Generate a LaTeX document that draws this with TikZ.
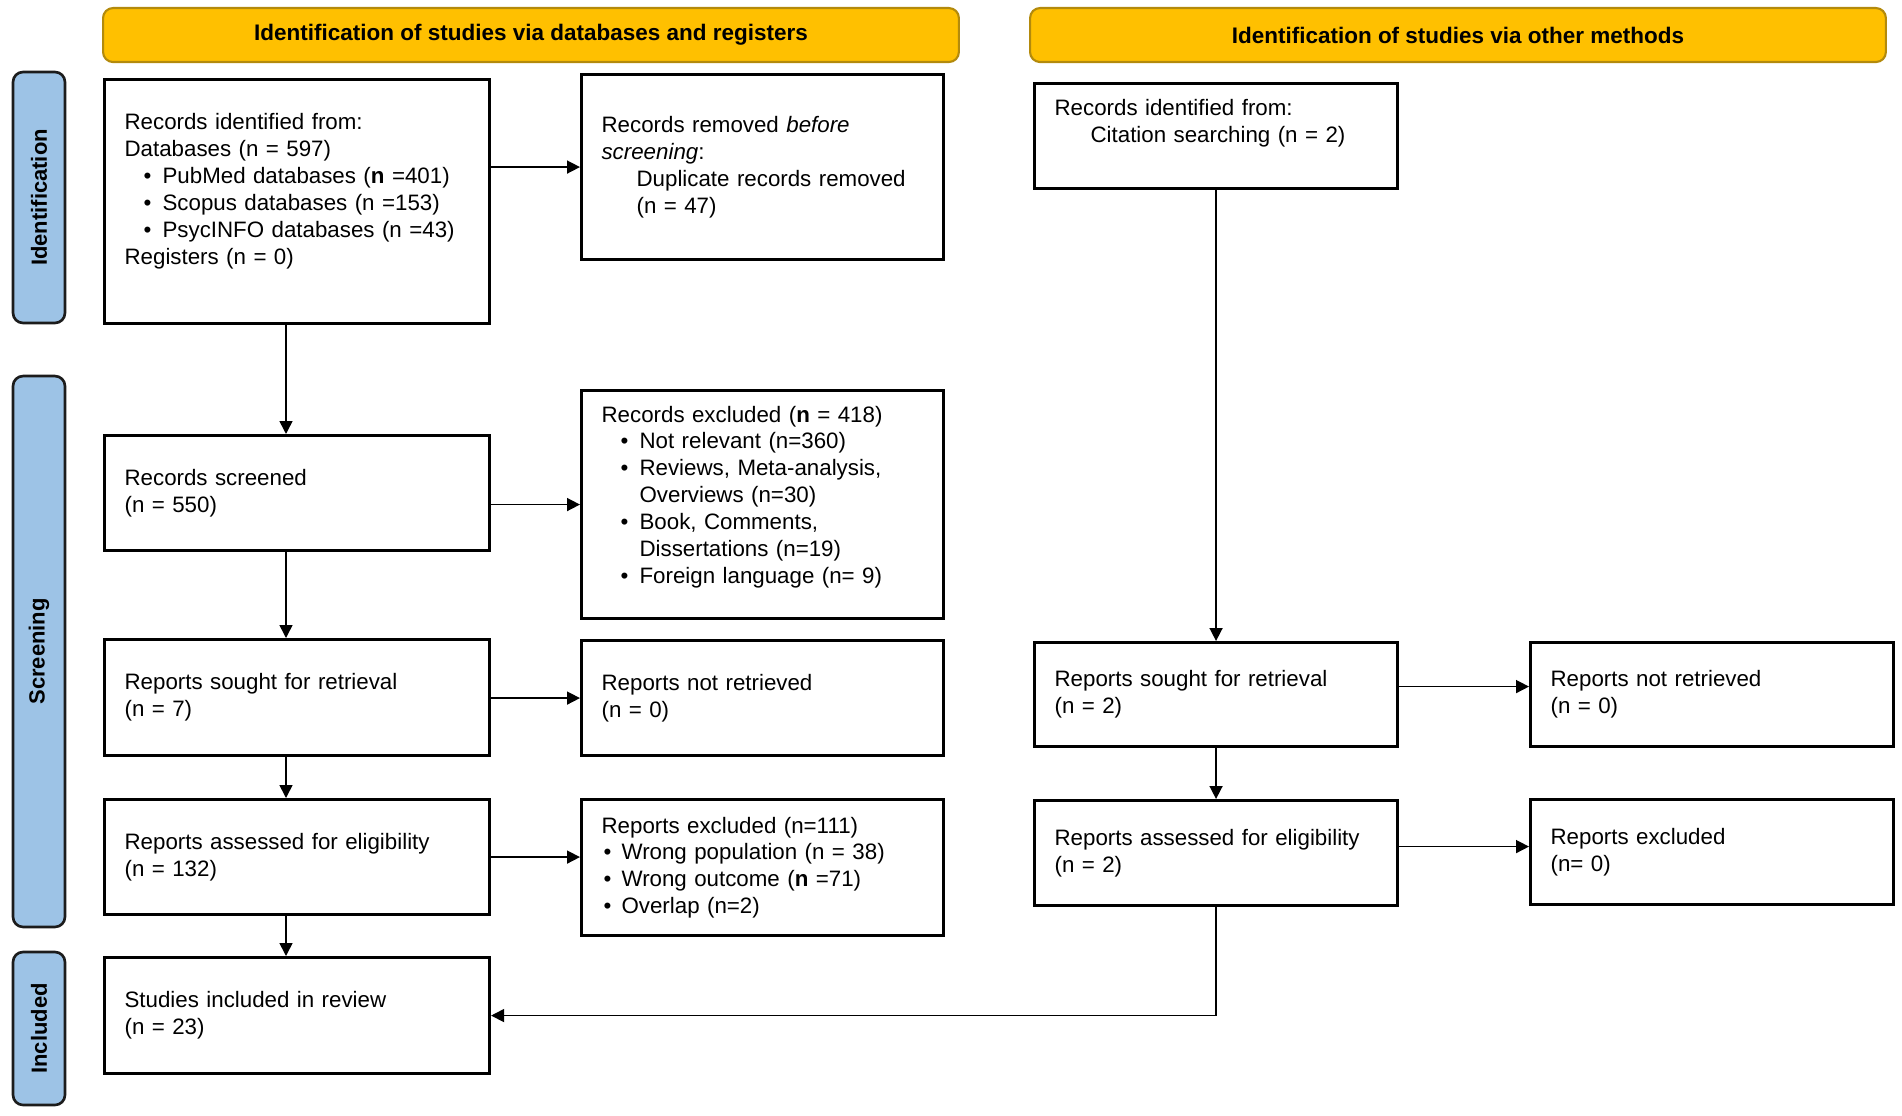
\documentclass[tikz,border=0pt]{standalone}
\usepackage{fontspec}
\setmainfont{Liberation Sans}
\usepackage{xcolor}
\usepackage{tikz}
\usetikzlibrary{arrows.meta,positioning}
\setlength{\parindent}{0pt}
\definecolor{headyellow}{HTML}{FFC000}
\definecolor{headedge}{HTML}{B38A0C}
\definecolor{phaseblue}{HTML}{9DC3E6}
\definecolor{phaseedge}{HTML}{1C1C1C}
\newcommand{\boxfont}{\fontsize{12.7}{15.3}\selectfont}
\newcommand{\bitem}{\hspace*{0.38cm}\makebox[0.38cm][l]{\textbullet}}
\newcommand{\bcont}{\hspace*{0.76cm}}
\newcommand{\vpad}[1]{\rule[-#1]{0pt}{#1}}
\tikzset{
  prismabox/.style={
    draw,
    line width=1.8pt,
    anchor=north west,
    align=left,
    inner xsep=0.4cm,
    inner ysep=0pt,
    font=\boxfont
  },
  leftbox/.style={prismabox, text width=6.9cm, minimum width=7.7cm},
  midbox/.style={prismabox, text width=6.44cm, minimum width=7.24cm},
  otherbox/.style={prismabox, text width=6.46cm, minimum width=7.26cm},
  headbox/.style={
    draw=headedge,
    fill=headyellow,
    line width=1.2pt,
    rounded corners=0.2cm,
    anchor=north west,
    minimum width=17.12cm,
    minimum height=1.08cm,
    font=\fontsize{12.8}{15}\selectfont\bfseries
  },
  phasebox/.style={
    draw=phaseedge,
    fill=phaseblue,
    line width=1.5pt,
    rounded corners=0.2cm,
    rotate=90,
    minimum height=1.04cm,
    font=\fontsize{12.5}{15}\selectfont\bfseries
  },
  flowarrow/.style={-{Triangle[length=0.26cm, width=0.26cm]}, line width=0.9pt}
}

\begin{document}
\begin{tikzpicture}[x=0.02cm, y=-0.02cm]
  \useasboundingbox (0,0) rectangle (1902,1115);

  % headers
  \node[headbox] (dbhead) at (102,7) {Identification of studies via databases and registers};
  \node[headbox] (otherhead) at (1029,7) {Identification of studies via other methods};

  % phases
  \node[phasebox, minimum width=5.02cm] (idphase) at (39,197.5) {Identification};
  \node[phasebox, minimum width=11.02cm] (scphase) at (39,651.5) {Screening};
  \node[phasebox, minimum width=3.06cm] (inphase) at (39,1028.5) {Included};

  % databases and registers
  \node[leftbox, minimum height=4.88cm] (ident) at (103,78) {Records identified from:\\Databases (n = 597)\\
    \bitem PubMed databases (\textbf{n} =401)\\
    \bitem Scopus databases (n =153)\\
    \bitem PsycINFO databases (n =43)\\
    Registers (n = 0)\vpad{0.5cm}};
  \node[midbox, minimum height=3.7cm] (removed) at (580,73) {Records removed \textit{before}\\\textit{screening}:\\
    \hspace*{0.7cm}Duplicate records removed\\\hspace*{0.7cm}(n = 47)};

  \node[leftbox, minimum height=2.3cm] (screened) at (103,434) {Records screened\\(n = 550)};
  \node[midbox, minimum height=4.56cm] (excluded) at (580,389) {Records excluded (\textbf{n} = 418)\\
    \bitem Not relevant (n=360)\\
    \bitem Reviews, Meta-analysis,\\\bcont Overviews (n=30)\\
    \bitem Book, Comments,\\\bcont Dissertations (n=19)\\
    \bitem Foreign language (n= 9)\vpad{0.4cm}};

  \node[leftbox, minimum height=2.32cm] (sought) at (103,638) {Reports sought for retrieval\\(n = 7)};
  \node[midbox, minimum height=2.3cm] (notret) at (580,639) {Reports not retrieved\\(n = 0)};

  \node[leftbox, minimum height=2.3cm] (assessed) at (103,798) {Reports assessed for eligibility\\(n = 132)};
  \node[midbox, minimum height=2.72cm] (exclrep) at (580,798) {Reports excluded (n=111)\\
    \hspace*{0.04cm}\makebox[0.36cm][l]{\textbullet}Wrong population (n = 38)\\
    \hspace*{0.04cm}\makebox[0.36cm][l]{\textbullet}Wrong outcome (\textbf{n} =71)\\
    \hspace*{0.04cm}\makebox[0.36cm][l]{\textbullet}Overlap (n=2)};

  \node[leftbox, minimum height=2.32cm] (studies) at (103,956) {Studies included in review\\(n = 23)};

  % other methods
  \node[otherbox, minimum height=2.1cm] (citation) at (1033,82) {Records identified from:\\
    \hspace*{0.72cm}Citation searching (n = 2)\vpad{0.62cm}};
  \node[otherbox, minimum height=2.08cm] (rsought) at (1033,641) {Reports sought for retrieval\\(n = 2)};
  \node[otherbox, minimum height=2.08cm] (rnotret) at (1529,641) {Reports not retrieved\\(n = 0)};
  \node[otherbox, minimum height=2.1cm] (rassessed) at (1033,799) {Reports assessed for eligibility\\(n = 2)};
  \node[otherbox, minimum height=2.1cm] (rexcl) at (1529,798) {Reports excluded\\(n= 0)};

  \coordinate (lcol) at (286,0);

  \draw[flowarrow] (ident.east |- removed.west) -- (removed.west);
  \draw[flowarrow] (screened.east |- excluded.west) -- (excluded.west);
  \draw[flowarrow] (sought.east |- notret.west) -- (notret.west);
  \draw[flowarrow] (assessed.east) -- (assessed.east -| exclrep.west);
  \draw[flowarrow] (ident.south -| lcol) -- (screened.north -| lcol);
  \draw[flowarrow] (screened.south -| lcol) -- (sought.north -| lcol);
  \draw[flowarrow] (sought.south -| lcol) -- (assessed.north -| lcol);
  \draw[flowarrow] (assessed.south -| lcol) -- (studies.north -| lcol);

  \draw[flowarrow] (citation.south) -- (rsought.north);
  \draw[flowarrow] (rsought.south) -- (rassessed.north);
  \draw[flowarrow] ([yshift=0.16cm]rsought.east) -- ([yshift=0.16cm]rsought.east -| rnotret.west);
  \draw[flowarrow] ([yshift=0.13cm]rassessed.east) -- ([yshift=0.13cm]rassessed.east -| rexcl.west);
  \draw[flowarrow] (rassessed.south) |- (studies.east);
\end{tikzpicture}
\end{document}
